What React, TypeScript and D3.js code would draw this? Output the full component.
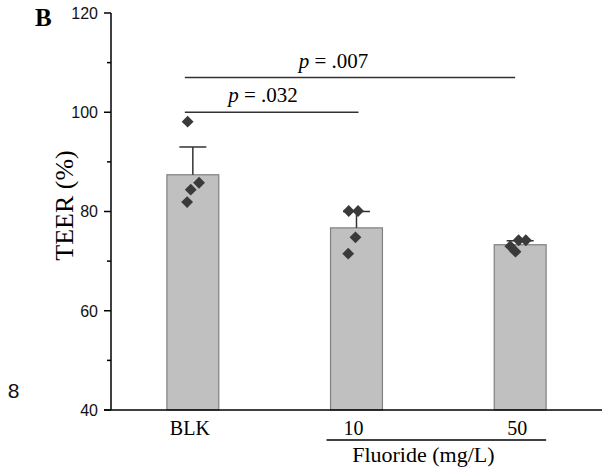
import React, { useEffect, useRef } from 'react';
import * as d3 from 'd3';

// groups on the x axis
const categories = ['BLK', '10', '50'];
// bar heights (mean TEER %) and upper error (+SD)
const means = [87.4, 76.7, 73.3];
const errors = [5.6, 3.3, 0.8];
// individual replicates per group
const pointValues = [
  [98.1, 85.8, 84.4, 81.9],
  [80.1, 80.1, 74.8, 71.5],
  [74.2, 74.2, 73.0, 71.9],
];
// horizontal jitter of replicates, as a fraction of the bar width
const pointJitter = [
  [-0.1, 0.12, -0.04, -0.11],
  [-0.15, 0.03, -0.02, -0.16],
  [-0.03, 0.11, -0.19, -0.09],
];
const yTicks = [40, 60, 80, 100, 120];
const yMinorTicks = [50, 70, 90, 110];
// significance brackets
const brackets = [
  { from: 'BLK', to: '10', level: 100, p: '.032' },
  { from: 'BLK', to: '50', level: 107, p: '.007' },
];

const W = 602;
const H = 469;

const Chart = () => {
  const ref = useRef<SVGSVGElement>(null);

  useEffect(() => {
    const svg = d3.select(ref.current);
    svg.selectAll('*').remove();

    const serif = '"Liberation Serif", "Times New Roman", serif';
    const sans = '"Liberation Sans", Arial, sans-serif';

    const x = d3.scaleBand<string>()
      .domain(categories)
      .range([111, 602])
      .paddingInner(0.683)
      .paddingOuter(0.3415);

    const y = d3.scaleLinear()
      .domain([40, 120])
      .range([410, 13]);

    const cx = (c: string) => (x(c) as number) + x.bandwidth() / 2;

    // bars
    svg.append('g')
      .selectAll('rect')
      .data(categories)
      .join('rect')
      .attr('x', d => x(d) as number)
      .attr('y', (d, i) => y(means[i]))
      .attr('width', x.bandwidth())
      .attr('height', (d, i) => y(40) - y(means[i]))
      .attr('fill', '#c0c0c0')
      .attr('stroke', '#7f7f7f')
      .attr('stroke-width', 1.2);

    // error bars (upper only)
    const eb = svg.append('g').attr('stroke', '#333').attr('stroke-width', 1.5);
    categories.forEach((c, i) => {
      eb.append('line')
        .attr('x1', cx(c)).attr('x2', cx(c))
        .attr('y1', y(means[i])).attr('y2', y(means[i] + errors[i]));
      eb.append('line')
        .attr('x1', cx(c) - 13.5).attr('x2', cx(c) + 13.5)
        .attr('y1', y(means[i] + errors[i])).attr('y2', y(means[i] + errors[i]));
    });

    // replicate points
    const diamond = d3.symbol(d3.symbolSquare, 70)();
    const pts = svg.append('g');
    categories.forEach((c, i) => {
      pointValues[i].forEach((v, j) => {
        pts.append('path')
          .attr('d', diamond)
          .attr('fill', '#3a3a3a')
          .attr('transform',
            `translate(${cx(c) + pointJitter[i][j] * x.bandwidth()},${y(v)}) rotate(45)`);
      });
    });

    // y axis
    const ax = svg.append('g');
    ax.append('line')
      .attr('x1', 111).attr('x2', 111)
      .attr('y1', y(120)).attr('y2', y(40))
      .attr('stroke', '#000').attr('stroke-width', 1.5);
    ax.selectAll('.major')
      .data(yTicks)
      .join('line')
      .attr('x1', 104).attr('x2', 111)
      .attr('y1', d => y(d)).attr('y2', d => y(d))
      .attr('stroke', '#000').attr('stroke-width', 1.5);
    ax.selectAll('.minor')
      .data(yMinorTicks)
      .join('line')
      .attr('class', 'minor')
      .attr('x1', 107).attr('x2', 111)
      .attr('y1', d => y(d)).attr('y2', d => y(d))
      .attr('stroke', '#000').attr('stroke-width', 1.5);
    ax.selectAll('text')
      .data(yTicks)
      .join('text')
      .attr('x', 98)
      .attr('y', d => y(d))
      .attr('dy', '0.36em')
      .attr('text-anchor', 'end')
      .attr('font-family', sans)
      .attr('font-size', 16)
      .attr('fill', '#111')
      .text(d => d);

    // x axis
    svg.append('line')
      .attr('x1', 104).attr('x2', 602)
      .attr('y1', y(40)).attr('y2', y(40))
      .attr('stroke', '#000').attr('stroke-width', 1.5);
    svg.append('g')
      .selectAll('text')
      .data(categories)
      .join('text')
      .attr('x', d => cx(d) - 3)
      .attr('y', 435)
      .attr('text-anchor', 'middle')
      .attr('font-family', serif)
      .attr('font-size', 20)
      .attr('fill', '#000')
      .text(d => d);

    // group underline + title
    svg.append('line')
      .attr('x1', cx('10') - 30).attr('x2', cx('50') + 26)
      .attr('y1', 440).attr('y2', 440)
      .attr('stroke', '#000').attr('stroke-width', 1.3);
    svg.append('text')
      .attr('x', (cx('10') + cx('50')) / 2 - 15)
      .attr('y', 462)
      .attr('text-anchor', 'middle')
      .attr('font-family', serif)
      .attr('font-size', 22)
      .attr('fill', '#000')
      .text('Fluoride (mg/L)');

    // y title
    svg.append('text')
      .attr('transform', `translate(73,${y(80) - 6}) rotate(-90)`)
      .attr('text-anchor', 'middle')
      .attr('font-family', serif)
      .attr('font-size', 26)
      .attr('fill', '#000')
      .text('TEER (%)');

    // significance brackets
    brackets.forEach(b => {
      const x1 = cx(b.from) - 8;
      const x2 = cx(b.to) + (b.to === '10' ? 2 : -5);
      svg.append('line')
        .attr('x1', x1).attr('x2', x2)
        .attr('y1', y(b.level)).attr('y2', y(b.level))
        .attr('stroke', '#333').attr('stroke-width', 1.5);
      const t = svg.append('text')
        .attr('x', x1 + (x2 - x1) * 0.45)
        .attr('y', y(b.level) - 10)
        .attr('text-anchor', 'middle')
        .attr('font-family', serif)
        .attr('font-size', 21)
        .attr('fill', '#000');
      t.append('tspan').attr('font-style', 'italic').text('p');
      t.append('tspan').text(` = ${b.p}`);
    });

    // panel letter and stray mark
    svg.append('text')
      .attr('x', 35).attr('y', 26)
      .attr('font-family', serif)
      .attr('font-weight', 'bold')
      .attr('font-size', 25)
      .attr('fill', '#000')
      .text('B');
    svg.append('text')
      .attr('x', 13.5).attr('y', 398)
      .attr('text-anchor', 'middle')
      .attr('font-family', sans)
      .attr('font-size', 21)
      .attr('fill', '#111')
      .text('8');
  }, []);

  return <svg ref={ref} width={W} height={H} style={{ position: 'absolute', left: 0, top: 0, background: '#fff' }} />;
};

export default function App() {
  return <Chart />;
}
